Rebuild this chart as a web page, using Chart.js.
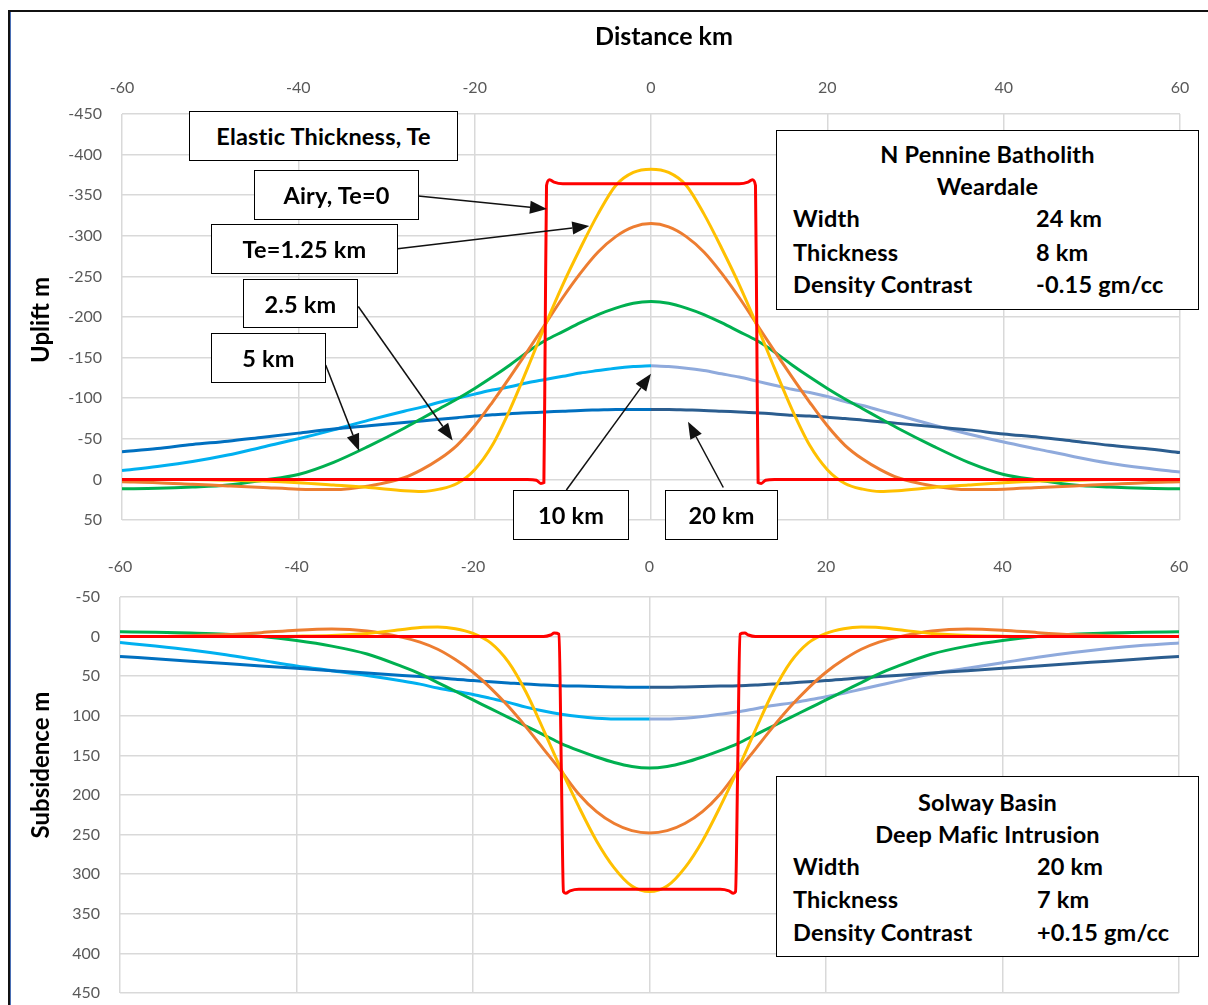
<!DOCTYPE html>
<html><head><meta charset="utf-8">
<script src="https://cdn.jsdelivr.net/npm/chart.js@4.4.1/dist/chart.umd.min.js"></script>
<style>
html,body{margin:0;padding:0;background:#fff;}
body{width:1208px;height:1005px;position:relative;overflow:hidden;font-family:Lato,'Open Sans',sans-serif;color:#000;}
canvas{position:absolute;left:0;}
#frame{position:absolute;left:8px;top:10px;width:1400px;height:1200px;border-left:2px solid #111;border-top:2px solid #111;}
#frameBlue{position:absolute;left:10px;top:12px;width:1px;height:1000px;background:#4a6fb5;}
.t{position:absolute;font-weight:bold;white-space:nowrap;}
.box{position:absolute;background:#fff;border:1.5px solid #000;box-sizing:border-box;font-weight:bold;font-size:23.5px;letter-spacing:0.2px;}
.box .c{position:absolute;left:0;right:0;text-align:center;line-height:28px;height:28px;margin-top:-14px;white-space:nowrap;}
.box .l{position:absolute;line-height:28px;height:28px;margin-top:-14px;white-space:nowrap;}
.rot{position:absolute;width:220px;height:30px;line-height:30px;text-align:center;font-weight:bold;font-size:24px;transform:rotate(-90deg);}
</style>
</head><body>
<div id="frame"></div><div id="frameBlue"></div>
<canvas id="c1" width="1208" height="540" style="top:0"></canvas>
<canvas id="c2" width="1208" height="465" style="top:540px"></canvas>

<div class="t" style="left:564px;width:200px;text-align:center;top:20px;font-size:25px;line-height:30px;">Distance km</div>
<div class="rot" style="left:-70px;top:305px;">Uplift m</div>
<div class="rot" style="left:-70px;top:750px;">Subsidence m</div>

<div class="box" style="left:189px;top:111px;width:269px;height:50px;"><div class="c" style="top:24px">Elastic Thickness, Te</div></div>
<div class="box" style="left:254px;top:170px;width:165px;height:50px;"><div class="c" style="top:24px">Airy, Te=0</div></div>
<div class="box" style="left:211px;top:224px;width:187px;height:50px;"><div class="c" style="top:24px">Te=1.25 km</div></div>
<div class="box" style="left:243px;top:279px;width:115px;height:49px;"><div class="c" style="top:24px">2.5 km</div></div>
<div class="box" style="left:211px;top:333px;width:115px;height:50px;"><div class="c" style="top:24px">5 km</div></div>
<div class="box" style="left:513px;top:490px;width:116px;height:50px;"><div class="c" style="top:24px">10 km</div></div>
<div class="box" style="left:665px;top:490px;width:113px;height:50px;"><div class="c" style="top:24px">20 km</div></div>

<div class="box" style="left:776px;top:130px;width:423px;height:180px;">
  <div class="c" style="top:23px">N Pennine Batholith</div>
  <div class="c" style="top:55px">Weardale</div>
  <div class="l" style="left:16px;top:87px">Width</div><div class="l" style="left:259px;top:87px">24 km</div>
  <div class="l" style="left:16px;top:121px">Thickness</div><div class="l" style="left:259px;top:121px">8 km</div>
  <div class="l" style="left:16px;top:153px">Density Contrast</div><div class="l" style="left:259px;top:153px">-0.15 gm/cc</div>
</div>
<div class="box" style="left:776px;top:776px;width:423px;height:181px;">
  <div class="c" style="top:25px">Solway Basin</div>
  <div class="c" style="top:57px">Deep Mafic Intrusion</div>
  <div class="l" style="left:16px;top:89px">Width</div><div class="l" style="left:260px;top:89px">20 km</div>
  <div class="l" style="left:16px;top:122px">Thickness</div><div class="l" style="left:260px;top:122px">7 km</div>
  <div class="l" style="left:16px;top:155px">Density Contrast</div><div class="l" style="left:260px;top:155px">+0.15 gm/cc</div>
</div>

<script>
// ---- distance samples (km) ----
const distanceKm = [-60,-56,-52,-48,-44,-40,-36,-32,-28,-26,-24,-22,-20,-18,-16,-14,-12,-10,-8,-6,-4,-2,0,2,4,6,8,10,12,14,16,18,20,22,24,26,28,32,36,40,44,48,52,56,60];
const leftKm = distanceKm.filter(v => v <= 0);
const rightKm = distanceKm.filter(v => v >= 0);

// ---- N Pennine Batholith: uplift (m, negative = up) ----
const airyUpKm = [-60,-14,-13,-12.5,-12.15,-12,-11.85,-11.5,-11,-10,0,10,11,11.5,11.85,12,12.15,12.5,13,14,60];
const airyUp   = [0,0,1,5,4,-180,-362,-369,-366,-364,-364,-364,-366,-369,-362,-180,4,5,1,0,0];
const te125Up = [0,0,0,1,2,4,7,10,14,15,12,5,-12,-42,-86,-137,-190,-240,-285,-327,-362,-378,-382,-378,-362,-327,-285,-240,-190,-137,-86,-42,-12,5,12,15,14,10,7,4,2,1,0,0,0];
const te25Up  = [3,4,6,8,10,12,12.5,8,-2,-12,-25,-42,-66,-95,-126,-158,-191,-224,-254,-280,-299,-311,-315,-311,-299,-280,-254,-224,-191,-158,-126,-95,-66,-42,-25,-12,-2,8,12.5,12,10,8,6,4,3];
const te5Up   = [11.5,11,9.5,7,1,-6,-21,-41,-63,-75,-87,-99,-112,-126,-141,-157,-171,-182,-193,-203,-211,-217,-219,-217,-211,-203,-193,-182,-171,-157,-141,-126,-112,-99,-87,-75,-63,-41,-21,-6,1,7,9.5,11,11.5];
const te10UpLeft  = [-11,-16,-22,-30,-40,-50,-61,-73,-84,-89,-95,-100,-105,-110,-114,-119,-123,-127,-131,-134,-137,-139,-140];
const te10UpRight = [-140,-139,-137,-134,-130,-126,-121,-116,-111,-107,-102,-96,-91,-85,-79,-67,-56,-46,-37,-28,-20,-14,-9];
const te20UpLeft  = [-34,-38,-43,-47,-52,-57,-62,-66,-70,-72,-74,-76,-78,-79.5,-81,-82,-83,-84,-85,-85.5,-86,-86,-86];
const te20UpRight = [-86,-86,-85.5,-85,-84,-83,-82,-80.5,-79,-78,-76.5,-75,-73,-71,-69,-65,-61,-56,-52,-47,-42,-38,-33];

// ---- Solway Basin: subsidence (m, positive = down) ----
const airyDnKm = [-60,-12,-11.2,-10.8,-10.25,-10,-9.75,-9.5,-9,-8,0,8,9,9.5,9.75,10,10.25,10.8,11.2,12,60];
const airyDn   = [0,0,-2,-4.5,-3,160,322,324,321,319,319,319,321,324,322,160,-3,-4.5,-2,0,0];
const te125Dn = [0,0,0,0,0,-0.5,-1.5,-4,-9,-11.5,-12,-10,-4,8,32,70,118,168,215,258,292,315,322,315,292,258,215,168,118,70,32,8,-4,-10,-12,-11.5,-9,-4,-1.5,-0.5,0,0,0,0,0];
const te25Dn  = [0,0,-1,-2.5,-5,-8,-9.5,-7,1,7,16,29,45,65,88,114,142,170,199,221,236,245,248,245,236,221,199,170,142,114,88,65,45,29,16,7,1,-7,-9.5,-8,-5,-2.5,-1,0,0];
const te5Dn   = [-6,-5.5,-4.5,-3,0,5,12,22,38,47,58,69,80,91,102,113,124,135,144,152,159,164,166,164,159,152,144,135,124,113,102,91,80,69,58,47,38,22,12,5,0,-3,-4.5,-5.5,-6];
const te10DnLeft  = [7.5,12,17,23,30,37,43,49,56,60,65,69,73,78,83,89,94,98,101,103,104,104,104];
const te10DnRight = [104,104,103,101,98,95,91,87,84,80,76,71.5,66.5,61.5,56.5,47,40,33,26,20,15,11,8];
const te20DnLeft  = [25,28,31,34,37,40,43,46,49,50.5,52,54,55.5,57,58.5,60,61,62,62.5,63,63.5,64,64];
const te20DnRight = [64,64,63.5,63,62.5,62,61,60,58.5,57,55.5,54,52,50.5,49,46,43,40,37,34,31,28,25];

// ---- axis ticks ----
const xTickMin = -60, xTickMax = 60, xTickStep = 20;
const upMin = -450, upMax = 50, dnMin = -50, dnMax = 450, yStep = 50;

// annotation arrows for top panel, in data units [km, m]
const upArrows = [
  {from:[-26.4,-349], to:[-11.8,-333]},
  {from:[-28.75,-284], to:[-7.0,-312]},
  {from:[-33.2,-213], to:[-22.5,-48]},
  {from:[-36.9,-141], to:[-33.1,-35]},
  {from:[-9.6,13], to:[0,-130]},
  {from:[8.2,10], to:[4.2,-71]}
];

const COL = {airy:'#FF0000', te125:'#FFC000', te25:'#ED7D31', te5:'#00B050',
  te10L:'#00B0F0', te10R:'#8FAADC', te20L:'#0070C0', te20R:'#2B5D8F'};

function pts(xs, ys){ return xs.map((x,i)=>({x:x, y:ys[i]})); }
function ds(label, xs, ys, color){
  return {label, data: pts(xs, ys), borderColor: color, backgroundColor: color,
    borderWidth: 3, pointRadius: 0, fill: false, cubicInterpolationMode: 'monotone', tension: 0.4};
}

const arrowPlugin = {
  id: 'arrows',
  afterDraw(chart, args, opts){
    const list = opts.list || [];
    const ctx = chart.ctx, xs = chart.scales.x, ys = chart.scales.y;
    ctx.save();
    ctx.strokeStyle = '#111'; ctx.fillStyle = '#111'; ctx.lineWidth = 1.5;
    list.forEach(a => {
      const x0 = xs.getPixelForValue(a.from[0]), y0 = ys.getPixelForValue(a.from[1]);
      const x1 = xs.getPixelForValue(a.to[0]), y1 = ys.getPixelForValue(a.to[1]);
      const ang = Math.atan2(y1 - y0, x1 - x0);
      const L = 17, W = 6.5;
      const bx = x1 - L*Math.cos(ang), by = y1 - L*Math.sin(ang);
      ctx.beginPath(); ctx.moveTo(x0, y0); ctx.lineTo(bx, by); ctx.stroke();
      ctx.beginPath();
      ctx.moveTo(x1, y1);
      ctx.lineTo(bx + W*Math.sin(ang), by - W*Math.cos(ang));
      ctx.lineTo(bx - W*Math.sin(ang), by + W*Math.cos(ang));
      ctx.closePath(); ctx.fill();
    });
    ctx.restore();
  }
};

function makeChart(id, datasets, yMin, yMax, geom, arrows){
  return new Chart(document.getElementById(id), {
    type: 'line',
    data: { datasets },
    plugins: [arrowPlugin],
    options: {
      responsive: false, animation: false, devicePixelRatio: 1,
      layout: { padding: { left: 0, top: 0, right: geom.padRight, bottom: geom.padBottom } },
      plugins: { legend: { display: false }, tooltip: { enabled: false }, arrows: { list: arrows } },
      scales: {
        x: {
          type: 'linear', position: 'top', min: xTickMin, max: xTickMax,
          ticks: { stepSize: xTickStep, color: '#595959', font: { family: 'Lato', size: 16 }, padding: geom.xPad, maxRotation: 0 },
          grid: { color: '#D9D9D9', lineWidth: 1.5, drawTicks: false },
          border: { display: false },
          afterFit(s){ s.height = geom.top; s.paddingLeft = 0; s.paddingRight = 0; }
        },
        y: {
          type: 'linear', reverse: true, min: yMin, max: yMax,
          ticks: { stepSize: yStep, color: '#595959', font: { family: 'Lato', size: 16 }, padding: 20 },
          grid: { color: '#D9D9D9', lineWidth: 1.5, drawTicks: false },
          border: { display: false },
          afterFit(s){ s.width = geom.left; s.paddingTop = 0; s.paddingBottom = 0; }
        }
      }
    }
  });
}

makeChart('c1', [
  ds('Airy, Te=0', airyUpKm, airyUp, COL.airy),
  ds('Te=1.25 km', distanceKm, te125Up, COL.te125),
  ds('2.5 km', distanceKm, te25Up, COL.te25),
  ds('5 km', distanceKm, te5Up, COL.te5),
  ds('20 km', leftKm, te20UpLeft, COL.te20L),
  ds('20 km', rightKm, te20UpRight, COL.te20R),
  ds('10 km', leftKm, te10UpLeft, COL.te10L),
  ds('10 km', rightKm, te10UpRight, COL.te10R)
], upMin, upMax, {left:122, top:114, padRight:28, padBottom:20, xPad:17}, upArrows);

makeChart('c2', [
  ds('Airy, Te=0', airyDnKm, airyDn, COL.airy),
  ds('Te=1.25 km', distanceKm, te125Dn, COL.te125),
  ds('2.5 km', distanceKm, te25Dn, COL.te25),
  ds('5 km', distanceKm, te5Dn, COL.te5),
  ds('20 km', leftKm, te20DnLeft, COL.te20L),
  ds('20 km', rightKm, te20DnRight, COL.te20R),
  ds('10 km', leftKm, te10DnLeft, COL.te10L),
  ds('10 km', rightKm, te10DnRight, COL.te10R)
], dnMin, dnMax, {left:120, top:57, padRight:29, padBottom:12, xPad:21}, []);
</script>
</body></html>
